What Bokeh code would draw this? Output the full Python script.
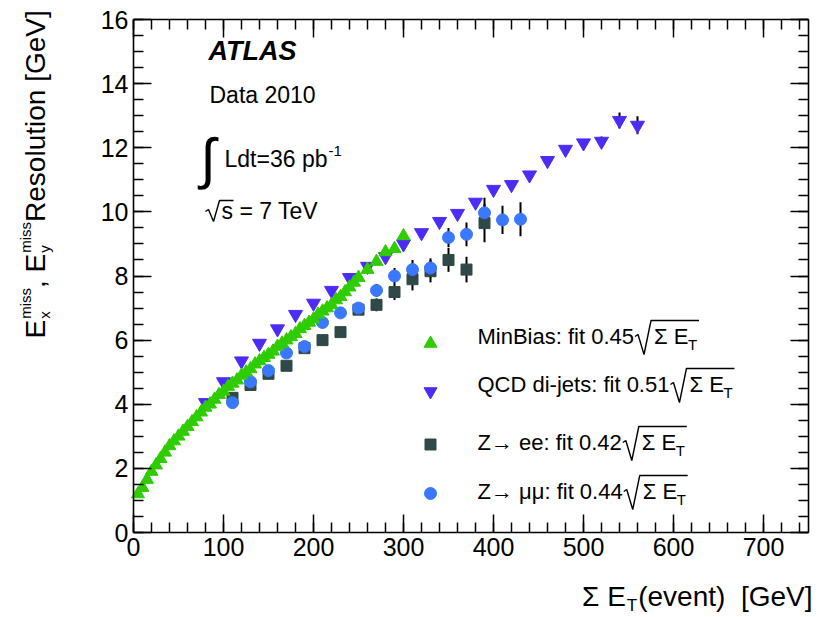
import math
from bokeh.plotting import figure
from bokeh.models import Range1d, LinearAxis, SingleIntervalTicker, Label, ColumnDataSource
from bokeh.embed import file_html
from bokeh.resources import INLINE

# ---------------- data ----------------
minbias_sumet = [5, 10, 15, 20, 25, 30, 35, 40, 45, 50, 55, 60, 65, 70, 75, 80, 85, 90, 95, 100,
                 105, 110, 115, 120, 125, 130, 135, 140, 145, 150, 155, 160, 165, 170, 175, 180,
                 185, 190, 195, 200, 205, 210, 215, 220, 225, 230, 235, 240, 245, 250,
                 260, 270, 280, 290, 300]
minbias_res = [1.2, 1.4, 1.65, 1.9, 2.1, 2.3, 2.5, 2.7, 2.85, 3.0, 3.15, 3.3, 3.45, 3.6, 3.75,
               3.9, 4.0, 4.15, 4.3, 4.4, 4.55, 4.65, 4.75, 4.9, 5.0, 5.1, 5.25, 5.35, 5.45, 5.55,
               5.65, 5.8, 5.9, 6.0, 6.1, 6.2, 6.35, 6.45, 6.55, 6.65, 6.8, 6.9, 7.0, 7.1, 7.25,
               7.35, 7.5, 7.65, 7.8, 7.95, 8.2, 8.45, 8.75, 8.85, 9.25]

qcd_sumet = [80, 100, 120, 140, 160, 180, 200, 220, 240, 260, 280, 300, 320, 340, 360, 380,
             400, 420, 440, 460, 480, 500, 520, 540, 560]
qcd_res = [4.05, 4.7, 5.35, 5.9, 6.35, 6.8, 7.15, 7.55, 7.95, 8.3, 8.6, 9.0, 9.35, 9.7, 9.95,
           10.3, 10.7, 10.85, 11.15, 11.6, 11.95, 12.15, 12.2, 12.85, 12.7]
qcd_err = [0.05, 0.05, 0.05, 0.05, 0.05, 0.05, 0.05, 0.05, 0.05, 0.05, 0.05, 0.05, 0.05, 0.05,
           0.05, 0.05, 0.08, 0.08, 0.08, 0.1, 0.1, 0.12, 0.15, 0.25, 0.28]

zee_sumet = [110, 130, 150, 170, 190, 210, 230, 250, 270, 290, 310, 330, 350, 370, 390]
zee_res = [4.2, 4.6, 4.95, 5.2, 5.75, 6.0, 6.25, 6.95, 7.1, 7.5, 7.9, 8.15, 8.5, 8.2, 9.65]
zee_err = [0.08, 0.08, 0.08, 0.1, 0.1, 0.1, 0.12, 0.15, 0.2, 0.25, 0.35, 0.35, 0.37, 0.4, 0.6]

zmm_sumet = [110, 130, 150, 170, 190, 210, 230, 250, 270, 290, 310, 330, 350, 370, 390, 410, 430]
zmm_res = [4.05, 4.7, 5.05, 5.6, 5.8, 6.55, 6.85, 7.0, 7.55, 8.0, 8.2, 8.25, 9.2, 9.3, 9.97,
           9.75, 9.77]
zmm_err = [0.08, 0.08, 0.08, 0.1, 0.1, 0.1, 0.12, 0.15, 0.2, 0.25, 0.3, 0.3, 0.3, 0.37, 0.47,
           0.44, 0.53]

legend_texts = ["MinBias: fit 0.45", "QCD di-jets: fit 0.51", "Z\u2192 ee: fit 0.42",
                "Z\u2192 \u03bc\u03bc: fit 0.44"]
x_title = ["\u03a3 E", "T", "(event)\u00a0 [GeV]"]
y_title = ["E", "x", "miss", ",", "E", "y", "miss", " Resolution [GeV]"]

# ---------------- style ----------------
FONT = "Liberation Sans"
C_MB = "#2ecc00"
C_QCD = "#4b2cf5"
C_EE = "#2f4848"
C_MM = "#3a78ff"

X0, X1, Y0, Y1 = 0, 750, 0, 16
FL, FR, FT, FB = 133, 808, 19, 532  # plot-box edges in pixels
W, H = 821, 617
BSHIFT = 0.4  # empirical offset of the rendered alphabetic baseline (in em)


def DX(px):
    return (px - FL) * (X1 - X0) / (FR - FL) + X0


def DY(py):
    return (FB - py) * (Y1 - Y0) / (FB - FT) + Y0


AW = {' ': 278, '\u00a0': 278, '(': 333, ')': 333, '-': 333, '.': 278, ':': 278, '=': 584,
      '[': 278, ']': 278, 'A': 667, 'B': 667, 'C': 722, 'D': 722, 'E': 667, 'G': 778,
      'L': 556, 'M': 833, 'Q': 778, 'R': 722, 'S': 667, 'T': 611, 'V': 667, 'Z': 611,
      'a': 556, 'b': 556, 'd': 556, 'e': 556, 'f': 278, 'i': 222, 'j': 222, 'l': 222,
      'm': 833, 'n': 556, 'o': 556, 'p': 556, 's': 500, 't': 278, 'u': 556, 'v': 500,
      'x': 500, 'y': 500, '\u03a3': 600, '\u03bc': 577, '\u2192': 1000, '\u221a': 549}


def tw(s, size):
    return sum(AW.get(c, 556) for c in s) / 1000.0 * size


# the frame spans the whole canvas; the axes sit at fixed data locations
p = figure(width=W, height=H, x_range=Range1d(DX(0), DX(W)), y_range=Range1d(DY(H), DY(0)),
           output_backend="svg", toolbar_location=None, x_axis_type=None, y_axis_type=None,
           min_border_left=0, min_border_right=0, min_border_top=0, min_border_bottom=0)
p.background_fill_color = "white"
p.border_fill_color = "white"
p.outline_line_color = None
p.xgrid.visible = False
p.ygrid.visible = False


def make_axis(kind, loc, labels):
    if kind == "x":
        t = SingleIntervalTicker(interval=100, num_minor_ticks=5)
        bounds = (X0, X1)
    else:
        t = SingleIntervalTicker(interval=2, num_minor_ticks=4)
        bounds = (Y0, Y1)
    ax = LinearAxis(ticker=t, fixed_location=loc, bounds=bounds, major_tick_in=18,
                    major_tick_out=0, minor_tick_in=10, minor_tick_out=0, axis_line_width=1.6,
                    major_tick_line_width=1.5, minor_tick_line_width=1.5,
                    axis_line_color="black")
    if labels:
        ax.major_label_text_font = FONT
        ax.major_label_text_font_size = "25px"
        ax.major_label_text_color = "black"
        ax.major_label_standoff = 5
    else:
        ax.major_label_text_color = None
        ax.major_label_text_font_size = "1px"
        ax.major_label_standoff = 0
    return ax


p.add_layout(make_axis("x", Y0, True), "below")
p.add_layout(make_axis("y", X0, True), "left")
p.add_layout(make_axis("x", Y1, False), "above")
p.add_layout(make_axis("y", X1, False), "right")

# ---------------- error bars ----------------
for xs, ys, es in [(qcd_sumet, qcd_res, qcd_err), (zee_sumet, zee_res, zee_err),
                   (zmm_sumet, zmm_res, zmm_err)]:
    src = ColumnDataSource(dict(x=xs, lo=[y - e for y, e in zip(ys, es)],
                                hi=[y + e for y, e in zip(ys, es)]))
    p.segment(x0="x", y0="lo", x1="x", y1="hi", source=src, line_color="black", line_width=2)

# ---------------- markers ----------------
p.scatter(zee_sumet, zee_res, marker="square", size=11, fill_color=C_EE, line_color=C_EE)
p.scatter(zmm_sumet, zmm_res, marker="circle", size=12, fill_color=C_MM, line_color=C_MM)
p.scatter(qcd_sumet, qcd_res, marker="inverted_triangle", size=14, fill_color=C_QCD,
          line_color=C_QCD)
p.scatter(minbias_sumet, minbias_res, marker="triangle", size=13, fill_color=C_MB,
          line_color=C_MB)


# ---------------- texts ----------------
def lab(px, py, text, size, style="normal", align="left", angle=0.0, font=FONT):
    """px, py: wanted position of the text's start on its baseline (pixels)."""
    if angle == 0.0:
        py = py - BSHIFT * size
    else:
        px = px - BSHIFT * size
    p.add_layout(Label(x=DX(px), y=DY(py), text=text, text_font=font,
                       text_font_size=f"{size}px", text_font_style=style, text_color="black",
                       text_align=align, text_baseline="alphabetic", angle=angle))


lab(208, 61, "ATLAS", 27, "bold italic")
lab(209, 104, "Data 2010", 23)
lab(200, 180, "\u222b", 56)
lab(224, 168, "Ldt=36 pb", 23)
lab(224 + tw("Ldt=36 pb", 23) + 1, 156, "-1", 15)
lab(221, 220, "s = 7 TeV", 23)

dec_xs, dec_ys = [], []
# radical of sqrt(s)
pts = [(205, 211), (208, 209), (213, 221), (219, 200), (233, 200)]
dec_xs.append([DX(a) for a, _ in pts])
dec_ys.append([DY(c) for _, c in pts])

# ---------------- legend ----------------
leg_text_px = 477
leg_base_py = [345, 393, 451, 500]
leg_key_py = [343, 391, 444, 493]
key_markers = ["triangle", "inverted_triangle", "square", "circle"]
key_colors = [C_MB, C_QCD, C_EE, C_MM]
key_sizes = [13, 13, 11, 12]
for i in range(4):
    p.scatter([DX(430)], [DY(leg_key_py[i])], marker=key_markers[i], size=key_sizes[i],
              fill_color=key_colors[i], line_color=key_colors[i])
    b = leg_base_py[i]
    lab(leg_text_px, b, legend_texts[i], 22)
    xr = leg_text_px + tw(legend_texts[i], 22) + 1
    xs = xr + 19
    lab(xs, b, "\u03a3 E", 22)
    xt = xs + tw("\u03a3 E", 22)
    lab(xt, b + 5, "T", 15)
    # radical sign with its overbar
    pts = [(xr, b - 9), (xr + 3, b - 11), (xr + 9, b + 9), (xr + 16, b - 25), (xt + 11, b - 25)]
    dec_xs.append([DX(a) for a, _ in pts])
    dec_ys.append([DY(c) for _, c in pts])
p.multi_line(dec_xs, dec_ys, line_color="black", line_width=1.4)

# ---------------- axis titles ----------------
xb = 607
x_ev = FR + 4 - tw(x_title[2], 28)
lab(x_ev, xb, x_title[2], 28)
x_T = x_ev - tw("T", 17) - 1
lab(x_T, xb + 5, x_title[1], 17)
lab(x_T - 1, xb, x_title[0], 28, align="right")

ang = math.pi / 2
yb = 46
SUP = 15
py = 338
lab(yb, py, y_title[0], 28, angle=ang)
py -= tw("E", 28) + 1
lab(yb + 4, py, y_title[1], SUP, angle=ang)
lab(yb - 15, py, y_title[2], SUP, angle=ang)
py -= tw("miss", SUP)
lab(yb, py, y_title[3], 28, angle=ang)
py -= tw(",", 28)
lab(yb, py, y_title[4], 28, angle=ang)
py -= tw("E", 28) + 1
lab(yb + 4, py, y_title[5], SUP, angle=ang)
lab(yb - 15, py, y_title[6], SUP, angle=ang)
py -= tw("miss", SUP)
lab(yb, py, y_title[7], 28, angle=ang)

open("out.html", "w").write(file_html(p, INLINE))
